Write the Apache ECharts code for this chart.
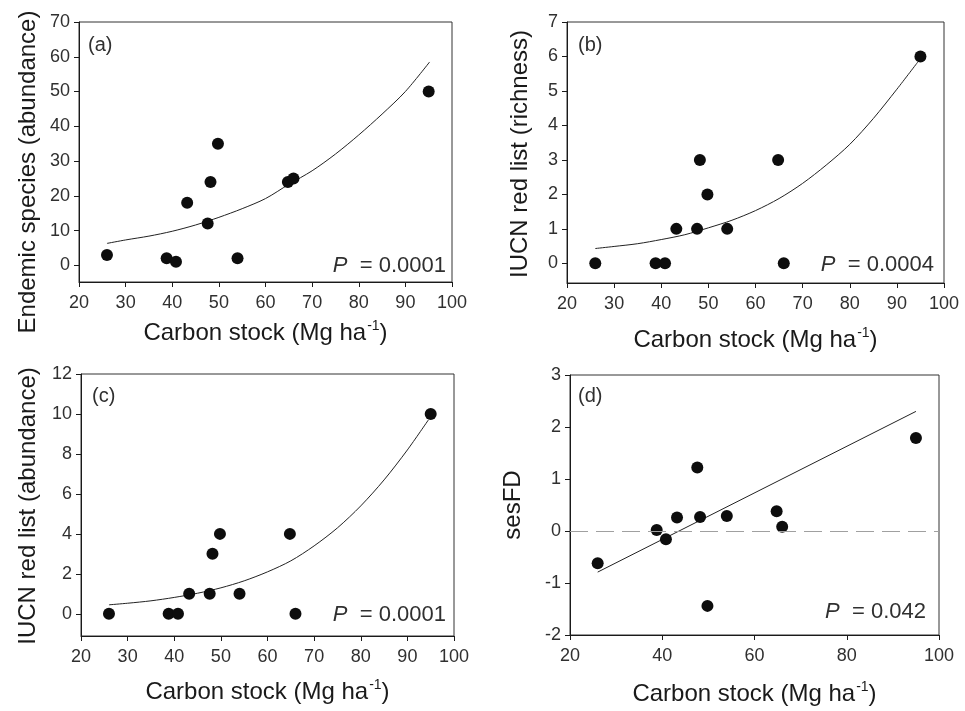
<!DOCTYPE html>
<html>
<head>
<meta charset="utf-8">
<script src="https://cdn.jsdelivr.net/npm/echarts@6/dist/echarts.min.js"></script>
<style>
  html, body { margin: 0; padding: 0; background: #fff; }
  #chart { width: 965px; height: 711px; }
</style>
</head>
<body>
<div id="chart"></div>
<script>
// Carbon stock of each site (Mg ha-1)
const carbonStock = [26, 38.8, 40.8, 43.2, 47.6, 48.2, 49.8, 54.0, 64.8, 66.0, 95];

// Response variables per site
const endemicAbundance = [3, 2, 1, 18, 12, 24, 35, 2, 24, 25, 50];
const iucnRichness     = [0, 0, 0, 1, 1, 3, 2, 1, 3, 0, 6];
const iucnAbundance    = [0, 0, 0, 1, 1, 3, 4, 1, 4, 0, 10];
const sesFD            = [-0.62, 0.02, -0.16, 0.26, 1.22, 0.27, -1.44, 0.29, 0.38, 0.08, 1.79];

// Fitted regression curves (x, y pairs along each fit)
const fitAx = [26, 30, 35, 40, 45, 50, 55, 60, 65, 70, 75, 80, 85, 90, 95.2];
const fitAy = [6.3, 7.3, 8.4, 9.8, 11.6, 13.8, 16.3, 19.2, 23.3, 27.2, 32, 37.5, 43.5, 50, 58.5];
const fitBx = [26, 30, 35, 40, 45, 50, 55, 60, 65, 70, 75, 80, 85, 90, 94.5];
const fitBy = [0.43, 0.49, 0.57, 0.69, 0.83, 1.03, 1.25, 1.53, 1.88, 2.32, 2.85, 3.45, 4.2, 5.05, 5.85];
const fitCx = [26, 30, 35, 40, 45, 50, 55, 60, 65, 70, 75, 80, 85, 90, 94.5];
const fitCy = [0.45, 0.53, 0.65, 0.82, 1.03, 1.3, 1.65, 2.1, 2.65, 3.4, 4.3, 5.4, 6.7, 8.2, 9.7];
const fitDx = [26, 95];
const fitDy = [-0.79, 2.3];

// Axis tick values
const yTicksA = [0, 10, 20, 30, 40, 50, 60, 70];
const yTicksB = [0, 1, 2, 3, 4, 5, 6, 7];
const yTicksC = [0, 2, 4, 6, 8, 10, 12];
const yTicksD = [-2, -1, 0, 1, 2, 3];

// Panel texts
const panelTags = ['(a)', '(b)', '(c)', '(d)'];
const pValues = ['0.0001', '0.0004', '0.0001', '0.042'];
const yTitles = ['Endemic species (abundance)', 'IUCN red list (richness)', 'IUCN red list (abundance)', 'sesFD'];

const FONT = '"Liberation Sans", Arial, Helvetica, sans-serif';
const INK = '#1a1a1a';
const LABEL = '#303030';

const zip = (xs, ys) => xs.map((x, i) => [x, ys[i]]);

const panels = [
  { grid: { left: 79, top: 22, width: 373, height: 260 }, y: [-4.8, 70], yTicks: yTicksA, xInt: 10, nameGap: 37,
    ys: endemicAbundance, fit: zip(fitAx, fitAy),
    tag: [88, 45], p: [446, 266], yTitle: [28, 172] },
  { grid: { left: 567, top: 22, width: 377, height: 261 }, y: [-0.57, 7], yTicks: yTicksB, xInt: 10, nameGap: 43,
    ys: iucnRichness, fit: zip(fitBx, fitBy),
    tag: [578, 45], p: [934, 265], yTitle: [520, 154] },
  { grid: { left: 81, top: 374, width: 373, height: 262 }, y: [-1.11, 12], yTicks: yTicksC, xInt: 10, nameGap: 42,
    ys: iucnAbundance, fit: zip(fitCx, fitCy),
    tag: [92, 396], p: [446, 615], yTitle: [28, 506] },
  { grid: { left: 570, top: 375, width: 369, height: 260 }, y: [-2, 3], yTicks: yTicksD, xInt: 20, nameGap: 45,
    ys: sesFD, fit: zip(fitDx, fitDy),
    tag: [578, 396], p: [926, 612], yTitle: [513, 505] }
];

const grids = [], xAxes = [], yAxes = [], series = [], graphics = [];

panels.forEach((pn, i) => {
  grids.push(Object.assign({ show: true, borderColor: '#333', borderWidth: 1, backgroundColor: 'transparent' }, pn.grid));

  xAxes.push({
    type: 'value', gridIndex: i, min: 20, max: 100, interval: pn.xInt,
    axisLine: { show: true, onZero: false, lineStyle: { color: INK, width: 1 } },
    axisTick: { show: true, inside: false, length: 5, lineStyle: { color: INK } },
    axisLabel: { show: true, margin: 12, fontFamily: FONT, fontSize: 18, color: LABEL },
    splitLine: { show: false },
    name: '{t|Carbon stock (Mg ha}{s|-1}{t|)}',
    nameLocation: 'middle', nameGap: pn.nameGap,
    nameTextStyle: {
      rich: {
        t: { fontFamily: FONT, fontSize: 24, color: INK, verticalAlign: 'bottom' },
        s: { fontFamily: FONT, fontSize: 14, color: INK, verticalAlign: 'top', padding: [0, 0, 12, 1] }
      }
    }
  });

  yAxes.push({
    type: 'value', gridIndex: i, min: pn.y[0], max: pn.y[1],
    axisLine: { show: true, onZero: false, lineStyle: { color: INK, width: 1 } },
    axisTick: { show: true, inside: false, length: 5, customValues: pn.yTicks, lineStyle: { color: INK } },
    axisLabel: { show: true, margin: 9, customValues: pn.yTicks, fontFamily: FONT, fontSize: 18, color: LABEL },
    splitLine: { show: false }
  });

  const fitSeries = {
    type: 'line', xAxisIndex: i, yAxisIndex: i, data: pn.fit,
    showSymbol: false, smooth: pn.fit.length > 2 ? 0.3 : false,
    lineStyle: { color: '#222', width: 1 }, silent: true, z: 2
  };
  if (i === 3) {
    // zero reference line for the standardized effect size
    fitSeries.markLine = {
      silent: true, symbol: 'none', label: { show: false },
      lineStyle: { color: '#a0a0a0', width: 1, type: [18, 8] },
      data: [{ yAxis: 0 }]
    };
  }
  series.push(fitSeries);

  series.push({
    type: 'scatter', xAxisIndex: i, yAxisIndex: i,
    data: zip(carbonStock, pn.ys),
    symbol: 'circle', symbolSize: 12,
    itemStyle: { color: '#0d0d0d', opacity: 1 }, z: 3
  });

  graphics.push({
    type: 'text', x: pn.tag[0], y: pn.tag[1],
    style: { text: panelTags[i], font: '20px ' + FONT, fill: LABEL, textAlign: 'left', textVerticalAlign: 'middle' }
  });

  graphics.push({
    type: 'text', x: pn.p[0], y: pn.p[1],
    style: {
      text: '{i|P}{n|  = ' + pValues[i] + '}',
      textAlign: 'right', textVerticalAlign: 'middle',
      rich: {
        i: { fontFamily: FONT, fontSize: 22, fontStyle: 'italic', fill: LABEL },
        n: { fontFamily: FONT, fontSize: 22, fill: LABEL }
      }
    }
  });

  graphics.push({
    type: 'text', x: pn.yTitle[0], y: pn.yTitle[1], rotation: Math.PI / 2,
    style: { text: yTitles[i], font: '24px ' + FONT, fill: INK, textAlign: 'center', textVerticalAlign: 'middle' }
  });
});

const chart = echarts.init(document.getElementById('chart'), null, { renderer: 'canvas' });
chart.setOption({
  backgroundColor: '#fff',
  animation: false,
  grid: grids,
  xAxis: xAxes,
  yAxis: yAxes,
  series: series,
  graphic: graphics
});
</script>
</body>
</html>
